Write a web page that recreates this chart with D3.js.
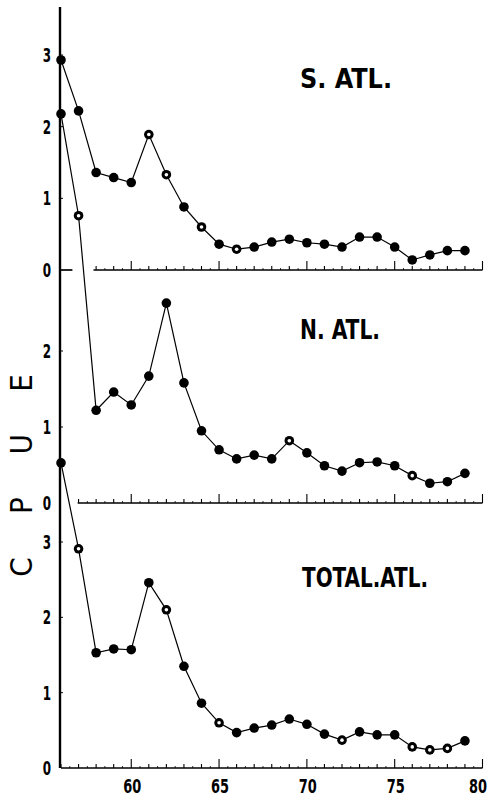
<!DOCTYPE html>
<html><head><meta charset="utf-8">
<script src="https://cdn.jsdelivr.net/npm/d3@7"></script>
<style>
html,body{margin:0;padding:0;background:#fff;}
svg{display:block;}
text{font-family:"Liberation Sans Narrow","DejaVu Sans Condensed","Liberation Sans",sans-serif;fill:#000;}
</style></head>
<body>
<svg id="chart" width="490" height="798"></svg>
<script>
// ---- data ----
const years = d3.range(56, 80); // 1956..1979
const sAtl = [2.93,2.22,1.36,1.29,1.22,1.89,1.33,0.88,0.60,0.36,0.29,0.32,0.39,0.43,0.38,0.36,0.32,0.46,0.46,0.32,0.14,0.21,0.27,0.27];
const nAtl = [5.12,3.78,1.22,1.46,1.29,1.67,2.63,1.58,0.95,0.70,0.58,0.63,0.58,0.82,0.66,0.49,0.42,0.53,0.54,0.49,0.36,0.26,0.28,0.39];
const totAtl = [4.05,2.91,1.53,1.58,1.57,2.46,2.10,1.35,0.86,0.60,0.47,0.53,0.57,0.65,0.58,0.45,0.37,0.48,0.44,0.44,0.28,0.24,0.26,0.36];
const sOpen = [61,62,64,66];
const nOpen = [57,69,76];
const totOpen = [57,62,65,72,76,77,78];
const panelNames = ["S. ATL.","N. ATL.","TOTAL.ATL."];
const yTicksTop = [0,1,2,3];
const yTicksMid = [0,1,2];
const yTicksBot = [0,1,2,3];
const xTickLabels = [60,65,70,75,80];
const yTitle = ["C","P","U","E"];

// ---- layout ----
const svg = d3.select("#chart");
const x = d3.scaleLinear().domain([56,80]).range([61,482.5]);
const axisX = 60;
const panels = [
  {name:panelNames[0], vals:sAtl, open:sOpen, y:d3.scaleLinear().domain([0,3]).range([270,55]), ticks:yTicksTop, axisFrom:57.85, stub:true, title:[300,88,92]},
  {name:panelNames[1], vals:nAtl, open:nOpen, y:d3.scaleLinear().domain([0,2]).range([503,351]), ticks:yTicksMid, axisFrom:56.95, stub:false, title:[300,339,80]},
  {name:panelNames[2], vals:totAtl, open:totOpen, y:d3.scaleLinear().domain([0,3]).range([768,542]), ticks:yTicksBot, axisFrom:56, stub:false, title:[302,587,126]}
];

// main vertical axis
svg.append("line").attr("x1",axisX).attr("x2",axisX).attr("y1",7).attr("y2",768)
  .attr("stroke","#000").attr("stroke-width",2.4);

panels.forEach((p,i)=>{
  const y0 = p.y(0);
  const g = svg.append("g");
  // horizontal axis
  g.append("line").attr("x1",x(p.axisFrom)).attr("x2",x(80)).attr("y1",y0).attr("y2",y0)
    .attr("stroke","#000").attr("stroke-width",1.7);
  if(p.stub){
    g.append("line").attr("x1",axisX).attr("x2",x(56.65)).attr("y1",y0).attr("y2",y0)
      .attr("stroke","#000").attr("stroke-width",1.7);
  }
  // x ticks
  const tk = d3.range(56,81).filter(v=>x(v)>=x(p.axisFrom)-0.5);
  g.selectAll("line.xt").data(tk).join("line")
    .attr("x1",d=>x(d)).attr("x2",d=>x(d))
    .attr("y1",y0).attr("y2",d=>y0-(d%5===0?9:4))
    .attr("stroke","#000").attr("stroke-width",1.1);
  const tkh = d3.range(56.5,80,1).filter(v=>x(v)>=x(p.axisFrom));
  g.selectAll("line.xth").data(tkh).join("line")
    .attr("x1",d=>x(d)).attr("x2",d=>x(d))
    .attr("y1",y0).attr("y2",y0-2)
    .attr("stroke","#000").attr("stroke-width",0.8);
  // y tick labels
  g.selectAll("text.yl").data(p.ticks).join("text")
    .attr("x",47).attr("y",d=>p.y(d)+7)
    .attr("text-anchor","middle").attr("font-size",19).attr("font-weight","bold")
    .attr("transform",`translate(47,0) scale(0.7,1) translate(-47,0)`)
    .text(d=>d);
  g.selectAll("line.yt").data(p.ticks.filter(d=>d>0)).join("line")
    .attr("x1",axisX).attr("x2",axisX+3).attr("y1",d=>p.y(d)).attr("y2",d=>p.y(d))
    .attr("stroke","#000").attr("stroke-width",1);
  // title
  g.append("text").attr("x",p.title[0]).attr("y",p.title[1])
    .attr("font-size",27).attr("font-weight","bold")
    .attr("textLength",p.title[2]).attr("lengthAdjust","spacingAndGlyphs")
    .text(p.name);
  // line
  const line = d3.line().x((d,j)=>x(years[j])).y(d=>p.y(d));
  g.append("path").datum(p.vals).attr("d",line).attr("fill","none")
    .attr("stroke","#000").attr("stroke-width",1.2);
  g.selectAll("circle.m").data(p.vals).join("circle")
    .attr("cx",(d,j)=>x(years[j])).attr("cy",d=>p.y(d)).attr("r",4.8).attr("fill","#000");
  g.selectAll("circle.o").data(p.vals.map((d,j)=>({d,yr:years[j]})).filter(o=>p.open.includes(o.yr))).join("circle")
    .attr("cx",o=>x(o.yr)).attr("cy",o=>p.y(o.d)).attr("r",1.8).attr("fill","#fff");
});

// bottom x labels
const lx = d => Math.min(x(d)+1, 478);
svg.selectAll("text.xl").data(xTickLabels).join("text")
  .attr("x",lx).attr("y",793).attr("text-anchor","middle").attr("font-size",20).attr("font-weight","bold")
  .attr("transform",d=>`translate(${lx(d)},0) scale(0.72,1) translate(${-lx(d)},0)`)
  .text(d=>d);

// y title: rotated letters
const yPos = d3.scalePoint().domain(yTitle).range([567,383]);
svg.selectAll("text.ytl").data(yTitle).join("text")
  .attr("transform",d=>`translate(32,${yPos(d)}) rotate(-90)`)
  .attr("text-anchor","middle").attr("font-size",31).attr("font-family","DejaVu Sans, sans-serif")
  .text(d=>d);
</script>
</body></html>
